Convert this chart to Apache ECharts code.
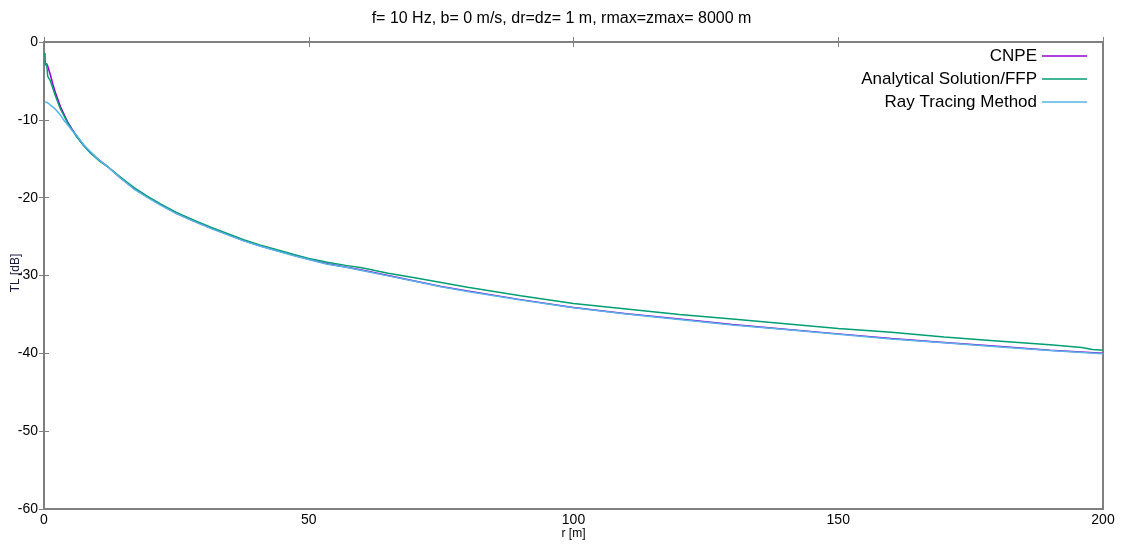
<!DOCTYPE html>
<html>
<head>
<meta charset="utf-8">
<script src="https://cdn.jsdelivr.net/npm/echarts@6/dist/echarts.min.js"></script>
<style>
  html, body { margin: 0; padding: 0; background: #fff; }
  #chart { width: 1123px; height: 544px; }
</style>
</head>
<body>
<div id="chart"></div>
<script>
// Transmission loss TL [dB] versus range r [m]
const titleText = 'f= 10 Hz, b= 0 m/s, dr=dz= 1 m, rmax=zmax= 8000 m';
const xAxisTitle = 'r [m]';
const yAxisTitle = 'TL [dB]';
const seriesNames = ['CNPE', 'Analytical Solution/FFP', 'Ray Tracing Method'];
const seriesColors = ['#9400d3', '#009e73', '#56b4e9'];

// [r, TL] pairs
const cnpe = [
  [0.6, -2.9], [0.9, -2.9], [1.2, -4.2], [1.7, -5.5], [2.2, -6.6], [3.1, -8.3],
  [4.4, -10.2], [5.3, -11.2], [6.3, -12.2], [7.5, -13.3], [8.8, -14.2], [10.3, -15.1],
  [12, -16.0], [14.5, -17.5], [17, -18.8], [19.5, -19.9], [22, -20.9], [25, -22.0],
  [28.3, -23.0], [31.5, -23.9], [34.6, -24.7], [37.7, -25.5], [40.9, -26.2], [44, -26.8],
  [47.2, -27.4], [50, -27.9], [53.5, -28.5], [57, -28.9], [60, -29.3], [65, -30.0],
  [70, -30.7], [75, -31.4], [80, -32.0], [90, -33.1], [100, -34.1], [110, -34.9],
  [120, -35.6], [130, -36.3], [140, -36.9], [150, -37.5], [160, -38.1], [170, -38.6],
  [180, -39.1], [190, -39.6], [200, -40.0]
];
const analytical = [
  [0.2, -1.4], [0.25, -3.0], [0.5, -2.7], [0.7, -4.4], [1.2, -5.0], [1.7, -6.0],
  [2.2, -7.0], [3.1, -8.6], [4.4, -10.3], [5.3, -11.3], [6.3, -12.3], [7.5, -13.3],
  [8.8, -14.3], [10.3, -15.2], [12, -16.0], [14.5, -17.4], [17, -18.7], [19.5, -19.8],
  [22, -20.8], [25, -21.9], [28.3, -22.9], [31.5, -23.8], [34.6, -24.6], [37.7, -25.4],
  [40.9, -26.1], [44, -26.7], [47.2, -27.3], [50, -27.8], [53.5, -28.3], [57, -28.7],
  [60, -29.0], [65, -29.7], [70, -30.3], [75, -30.9], [80, -31.5], [90, -32.6],
  [100, -33.6], [110, -34.3], [120, -35.0], [130, -35.6], [140, -36.2], [150, -36.8],
  [160, -37.3], [170, -37.9], [180, -38.4], [190, -38.9], [196, -39.25], [198, -39.5],
  [200, -39.6]
];
const rayTracing = [
  [0.2, -7.7], [0.7, -7.8], [1.2, -8.1], [1.8, -8.4], [2.5, -8.9], [3.1, -9.4],
  [3.7, -10.0], [4.4, -10.6], [5, -11.1], [6.3, -12.1], [7.5, -13.2], [8.8, -14.1],
  [10.3, -15.1], [12, -16.0], [14.5, -17.5], [17, -18.9], [19.5, -19.95], [22, -20.95],
  [25, -22.05], [28.3, -23.05], [31.5, -23.95], [34.6, -24.75], [37.7, -25.55],
  [40.9, -26.25], [44, -26.85], [47.2, -27.45], [50, -27.95], [53.5, -28.55],
  [57, -28.95], [60, -29.35], [65, -30.05], [70, -30.75], [75, -31.45], [80, -32.05],
  [90, -33.15], [100, -34.15], [110, -34.95], [120, -35.65], [130, -36.35],
  [140, -36.95], [150, -37.55], [160, -38.15], [170, -38.65], [180, -39.15],
  [190, -39.65], [200, -40.05]
];

const xTicks = { min: 0, max: 200, interval: 50 };
const yTicks = { min: -60, max: 0, interval: 10 };

const FONT = 'Liberation Sans, Arial, sans-serif';
const chart = echarts.init(document.getElementById('chart'), null, { renderer: 'canvas' });

const borderColor = '#808080';
// ticks point into the plot box on all four sides
const tickStyle = () => ({
  show: true, inside: true, length: 5,
  lineStyle: { color: borderColor, width: 1 }
});

chart.setOption({
  animation: false,
  backgroundColor: '#fff',
  title: {
    text: titleText,
    left: 'center',
    top: 6,
    textStyle: { fontFamily: FONT, fontSize: 16, fontWeight: 'normal', color: '#000' }
  },
  legend: {
    data: seriesNames,
    orient: 'vertical',
    right: 31,
    top: 41,
    align: 'right',
    icon: 'rect',
    itemWidth: 45,
    itemHeight: 1.5,
    itemGap: 3,
    textStyle: { fontFamily: FONT, fontSize: 17, color: '#000', lineHeight: 20 }
  },
  grid: {
    left: 44, right: 20, top: 42, bottom: 35,
    outerBoundsMode: 'none',
    containLabel: false,
    show: true, borderColor: borderColor, borderWidth: 2, backgroundColor: 'transparent'
  },
  graphic: [
    {
      // rotated y-axis title, sitting over the tick labels as in gnuplot output
      type: 'text',
      x: 16, y: 273,
      rotation: Math.PI / 2,
      style: {
        text: yAxisTitle,
        font: '12px ' + FONT,
        fill: '#1a1a40',
        textAlign: 'center',
        textVerticalAlign: 'middle'
      },
      z: 10
    }
  ],
  xAxis: [
    {
      type: 'value', position: 'bottom',
      min: xTicks.min, max: xTicks.max, interval: xTicks.interval,
      axisLine: { show: true, lineStyle: { color: borderColor, width: 0 } },
      axisTick: tickStyle(),
      splitLine: { show: false },
      name: xAxisTitle, nameLocation: 'middle', nameGap: 19, nameMoveOverlap: false,
      nameTextStyle: { fontFamily: FONT, fontSize: 12, color: '#000' },
      axisLabel: { fontFamily: FONT, fontSize: 14, color: '#000', margin: 4 }
    },
    {
      type: 'value', position: 'top',
      min: xTicks.min, max: xTicks.max, interval: xTicks.interval,
      axisLine: { show: true, lineStyle: { color: borderColor, width: 0 } },
      axisTick: tickStyle(),
      splitLine: { show: false },
      axisLabel: { show: false }
    }
  ],
  yAxis: [
    {
      type: 'value', position: 'left',
      min: yTicks.min, max: yTicks.max, interval: yTicks.interval,
      axisLine: { show: true, lineStyle: { color: borderColor, width: 0 } },
      axisTick: tickStyle(),
      splitLine: { show: false },
      axisLabel: { fontFamily: FONT, fontSize: 14, color: '#000', margin: 6 }
    },
    {
      type: 'value', position: 'right',
      min: yTicks.min, max: yTicks.max, interval: yTicks.interval,
      axisLine: { show: true, lineStyle: { color: borderColor, width: 0 } },
      axisTick: tickStyle(),
      splitLine: { show: false },
      axisLabel: { show: false }
    }
  ],
  series: [
    { name: seriesNames[0], data: cnpe },
    { name: seriesNames[1], data: analytical },
    { name: seriesNames[2], data: rayTracing }
  ].map((s, i) => ({
    name: s.name,
    type: 'line',
    data: s.data,
    xAxisIndex: 0,
    yAxisIndex: 0,
    showSymbol: false,
    smooth: false,
    color: seriesColors[i],
    lineStyle: { width: 1.5, color: seriesColors[i] },
    emphasis: { disabled: true }
  }))
});
</script>
</body>
</html>
